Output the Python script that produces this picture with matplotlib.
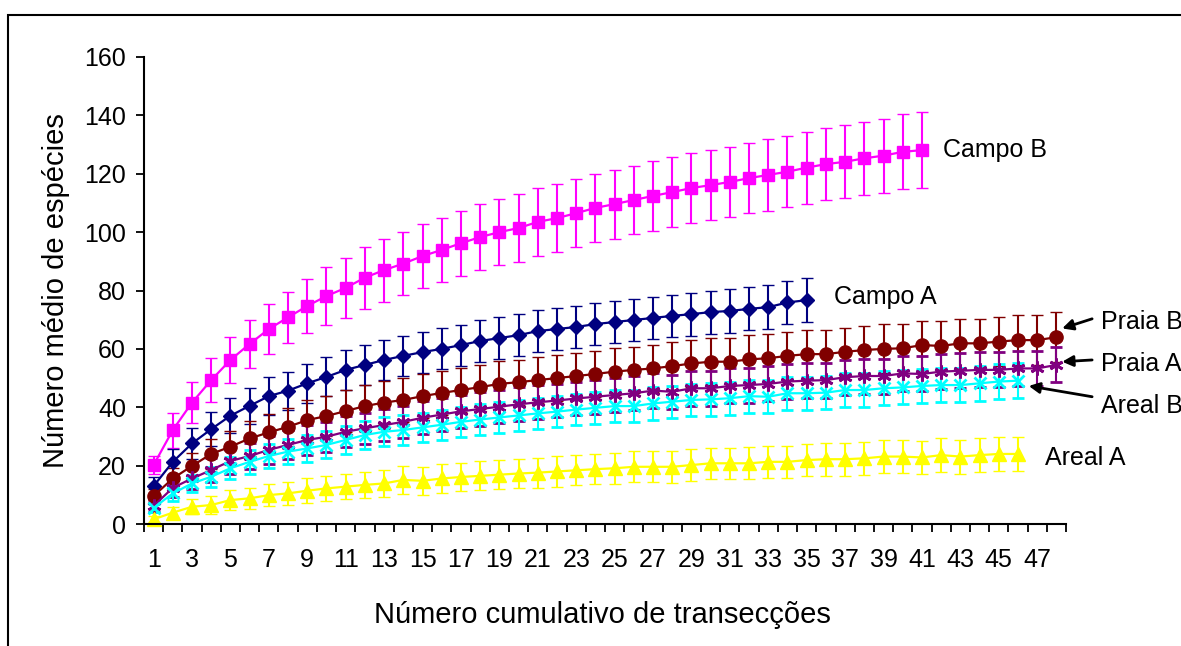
import matplotlib
matplotlib.use("Agg")
import matplotlib.pyplot as plt
from matplotlib.patches import Rectangle
from matplotlib.ticker import FixedLocator

plt.rcParams['font.family'] = ['Liberation Sans', 'DejaVu Sans']

campo_b = [20.2, 32.2, 41.6, 49.3, 56.2, 61.7, 66.8, 70.8, 74.7, 78.1, 80.9, 84.4, 87.0, 89.2,
           91.8, 93.9, 96.2, 98.3, 100.0, 101.4, 103.5, 104.8, 106.5, 108.3, 109.6, 111.0, 112.4,
           113.7, 115.1, 116.1, 117.2, 118.5, 119.6, 120.7, 122.1, 123.3, 124.1, 125.3, 126.2,
           127.5, 128.1]
campo_b_sd = [3.0, 6.0, 7.0, 7.5, 8.0, 8.3, 8.6, 8.8, 9.2, 9.8, 10.3, 10.6, 10.8, 10.9, 11.0,
              11.1, 11.2, 11.3, 11.4, 11.5, 11.6, 11.6, 11.7, 11.7, 11.8, 11.8, 11.9, 11.9, 12.0,
              12.0, 12.1, 12.1, 12.2, 12.2, 12.3, 12.4, 12.5, 12.6, 12.7, 12.8, 13.0]

campo_a = [13.0, 21.3, 27.6, 32.5, 37.1, 40.5, 43.8, 45.7, 48.2, 50.4, 52.8, 54.5, 56.2, 57.6,
           58.9, 60.0, 61.3, 62.7, 63.7, 64.7, 66.1, 66.8, 67.5, 68.5, 69.2, 69.9, 70.6, 71.3,
           71.9, 72.6, 73.0, 73.7, 74.3, 75.9, 76.7]
campo_a_sd = [3.0, 4.5, 5.2, 5.8, 6.0, 6.2, 6.4, 6.5, 6.6, 6.7, 6.8, 6.8, 6.9, 6.9, 7.0, 7.0,
              7.0, 7.1, 7.1, 7.1, 7.2, 7.2, 7.2, 7.2, 7.3, 7.3, 7.3, 7.3, 7.4, 7.4, 7.4, 7.4,
              7.5, 7.5, 7.5]

praia_b = [9.6, 15.6, 19.9, 24.0, 26.5, 29.3, 31.4, 33.3, 35.6, 37.0, 38.7, 40.4, 41.6, 42.5,
           43.8, 44.9, 45.9, 46.9, 48.0, 48.6, 49.3, 50.0, 50.7, 51.4, 52.2, 52.8, 53.3, 54.1,
           55.0, 55.6, 55.6, 56.4, 56.8, 57.6, 58.2, 58.2, 59.0, 59.6, 60.0, 60.2, 61.3, 61.0,
           61.9, 61.9, 62.5, 63.0, 63.0, 64.0]
praia_b_sd = [2.5, 3.5, 4.5, 5.0, 5.5, 6.0, 6.3, 6.6, 6.8, 7.0, 7.1, 7.2, 7.3, 7.4, 7.5, 7.5,
              7.6, 7.6, 7.7, 7.7, 7.8, 7.8, 7.9, 7.9, 8.0, 8.0, 8.0, 8.1, 8.1, 8.1, 8.2, 8.2,
              8.2, 8.3, 8.3, 8.3, 8.3, 8.4, 8.4, 8.4, 8.4, 8.5, 8.5, 8.5, 8.5, 8.6, 8.6, 8.6]

praia_a = [6.2, 12.4, 15.6, 18.5, 21.6, 23.3, 25.4, 27.1, 28.8, 29.9, 31.6, 32.8, 33.9, 35.0,
           36.4, 37.5, 38.6, 39.4, 40.2, 41.0, 41.7, 42.3, 43.0, 43.6, 44.2, 44.8, 45.7, 45.3,
           46.5, 46.5, 47.3, 47.6, 48.0, 48.8, 49.1, 49.3, 50.3, 50.7, 50.7, 51.6, 51.4, 52.2,
           52.5, 52.8, 52.8, 53.3, 53.3, 54.5]
praia_a_sd = [2.0, 3.0, 3.5, 4.0, 4.3, 4.6, 4.8, 5.0, 5.1, 5.2, 5.3, 5.4, 5.5, 5.5, 5.6, 5.6,
              5.7, 5.7, 5.7, 5.8, 5.8, 5.8, 5.8, 5.9, 5.9, 5.9, 5.9, 5.9, 6.0, 6.0, 6.0, 6.0,
              6.0, 6.0, 6.0, 6.0, 6.0, 6.0, 6.0, 6.0, 6.0, 6.0, 6.0, 6.0, 6.0, 6.0, 6.0, 6.0]

areal_b = [5.5, 10.5, 13.9, 16.2, 19.1, 21.3, 23.3, 24.8, 25.9, 27.1, 28.8, 30.5, 31.6, 32.2,
           33.1, 34.0, 35.0, 35.8, 36.5, 37.2, 37.9, 38.5, 39.2, 39.8, 40.4, 40.4, 41.3, 41.9,
           42.5, 42.7, 43.1, 43.8, 43.6, 44.8, 44.8, 45.0, 45.9, 45.9, 46.5, 46.8, 47.3, 47.6,
           47.6, 48.2, 48.8, 49.1]
areal_b_sd = [1.5, 2.5, 3.0, 3.5, 3.8, 4.0, 4.2, 4.4, 4.5, 4.6, 4.7, 4.8, 4.9, 5.0, 5.0, 5.1,
              5.1, 5.2, 5.2, 5.3, 5.3, 5.3, 5.4, 5.4, 5.4, 5.5, 5.5, 5.5, 5.5, 5.6, 5.6, 5.6,
              5.6, 5.7, 5.7, 5.7, 5.7, 5.8, 5.8, 5.8, 5.8, 5.9, 5.9, 5.9, 6.0, 6.0]

areal_a = [1.6, 3.9, 5.9, 6.5, 8.2, 8.8, 9.9, 10.5, 11.4, 12.2, 12.8, 13.4, 13.9, 15.1, 14.8,
           15.6, 16.1, 16.5, 16.9, 17.3, 17.6, 18.0, 18.4, 18.8, 19.1, 19.6, 19.6, 19.6, 20.2,
           20.8, 20.8, 20.8, 21.3, 21.3, 21.9, 22.2, 22.2, 22.5, 23.1, 23.1, 22.8, 23.6, 23.1,
           23.6, 24.0, 24.0]
areal_a_sd = [1.0, 2.0, 2.5, 3.0, 3.3, 3.6, 3.8, 4.0, 4.2, 4.3, 4.4, 4.5, 4.6, 4.7, 4.8, 4.9,
              4.9, 5.0, 5.0, 5.1, 5.1, 5.2, 5.2, 5.2, 5.3, 5.3, 5.3, 5.4, 5.4, 5.4, 5.4, 5.5,
              5.5, 5.5, 5.5, 5.6, 5.6, 5.6, 5.6, 5.7, 5.7, 5.7, 5.8, 5.8, 5.8, 5.8]

n_categories = 48
x_labels = [str(i) for i in range(1, n_categories + 1, 2)]

series = [
    ("Campo B", campo_b, campo_b_sd, "#FF00FF", "s", 8.5, 1),
    ("Campo A", campo_a, campo_a_sd, "#000080", "D", 7, 1),
    ("Praia B", praia_b, praia_b_sd, "#800000", "o", 9.5, 1),
    ("Praia A", praia_a, praia_a_sd, "#800080", (6, 2, 0), 10, 2),
    ("Areal B", areal_b, areal_b_sd, "#00FFFF", "x", 8, 2),
    ("Areal A", areal_a, areal_a_sd, "#FFFF00", "^", 10, 1),
]

fig = plt.figure(figsize=(11.81, 6.46), dpi=100)
fig.patches.append(Rectangle((8 / 1181, -0.1), 1.2, 1 - 15 / 646 + 0.1, transform=fig.transFigure,
                             fill=False, edgecolor="black", linewidth=1.5))
ax = fig.add_axes([144 / 1181, 1 - 524 / 646, 922 / 1181, 467 / 646])

for name, vals, sd, color, marker, ms, mew in series:
    xs = list(range(1, len(vals) + 1))
    ax.errorbar(xs, vals, yerr=sd, color=color, marker=marker, markersize=ms,
                markeredgewidth=mew, markeredgecolor=color, linewidth=1.6,
                elinewidth=1.5, capsize=4.5, capthick=1.5, clip_on=False)

ax.set_xlim(0.5, n_categories + 0.5)
ax.set_ylim(0, 160)
ax.set_yticks(range(0, 161, 20))
ax.set_xticks(range(1, n_categories + 1, 2))
ax.set_xticklabels(x_labels)
ax.xaxis.set_minor_locator(FixedLocator([i + 0.5 for i in range(0, n_categories + 1)]))
ax.tick_params(axis="x", which="major", length=0, pad=17, labelsize=18)
ax.tick_params(axis="x", which="minor", length=6, width=1.3, direction="out")
ax.tick_params(axis="y", length=6, width=1.3, pad=7, labelsize=18)
for side in ["top", "right"]:
    ax.spines[side].set_visible(False)
for side in ["left", "bottom"]:
    ax.spines[side].set_linewidth(1.5)

ax.set_xlabel("Número cumulativo de transecções", fontsize=21)
ax.set_ylabel("Número médio de espécies", fontsize=21)
ax.xaxis.set_label_coords(0.497, -0.165)
ax.yaxis.set_label_coords(-0.080, 0.5)

ax.text(42.1, 128.1, "Campo B", fontsize=18, va="center", ha="left")
ax.text(36.4, 77.9, "Campo A", fontsize=18, va="center", ha="left")
ax.text(47.4, 22.7, "Areal A", fontsize=18, va="center", ha="left")

arrows = [
    ("Praia B", (50.3, 69.3), (49.86, 70.3), (48.3, 67.0)),
    ("Praia A", (50.3, 54.8), (49.86, 56.2), (48.3, 55.6)),
    ("Areal B", (50.3, 40.4), (49.86, 43.6), (46.56, 47.3)),
]
for label, text_xy, tail, head in arrows:
    ax.text(text_xy[0], text_xy[1], label, fontsize=18, va="center", ha="left", clip_on=False)
    ax.annotate("", xy=head, xytext=tail, annotation_clip=False,
                arrowprops=dict(arrowstyle="-|>", color="black", lw=2, mutation_scale=16,
                                shrinkA=0, shrinkB=0))

fig.savefig("out.png", dpi=100)
